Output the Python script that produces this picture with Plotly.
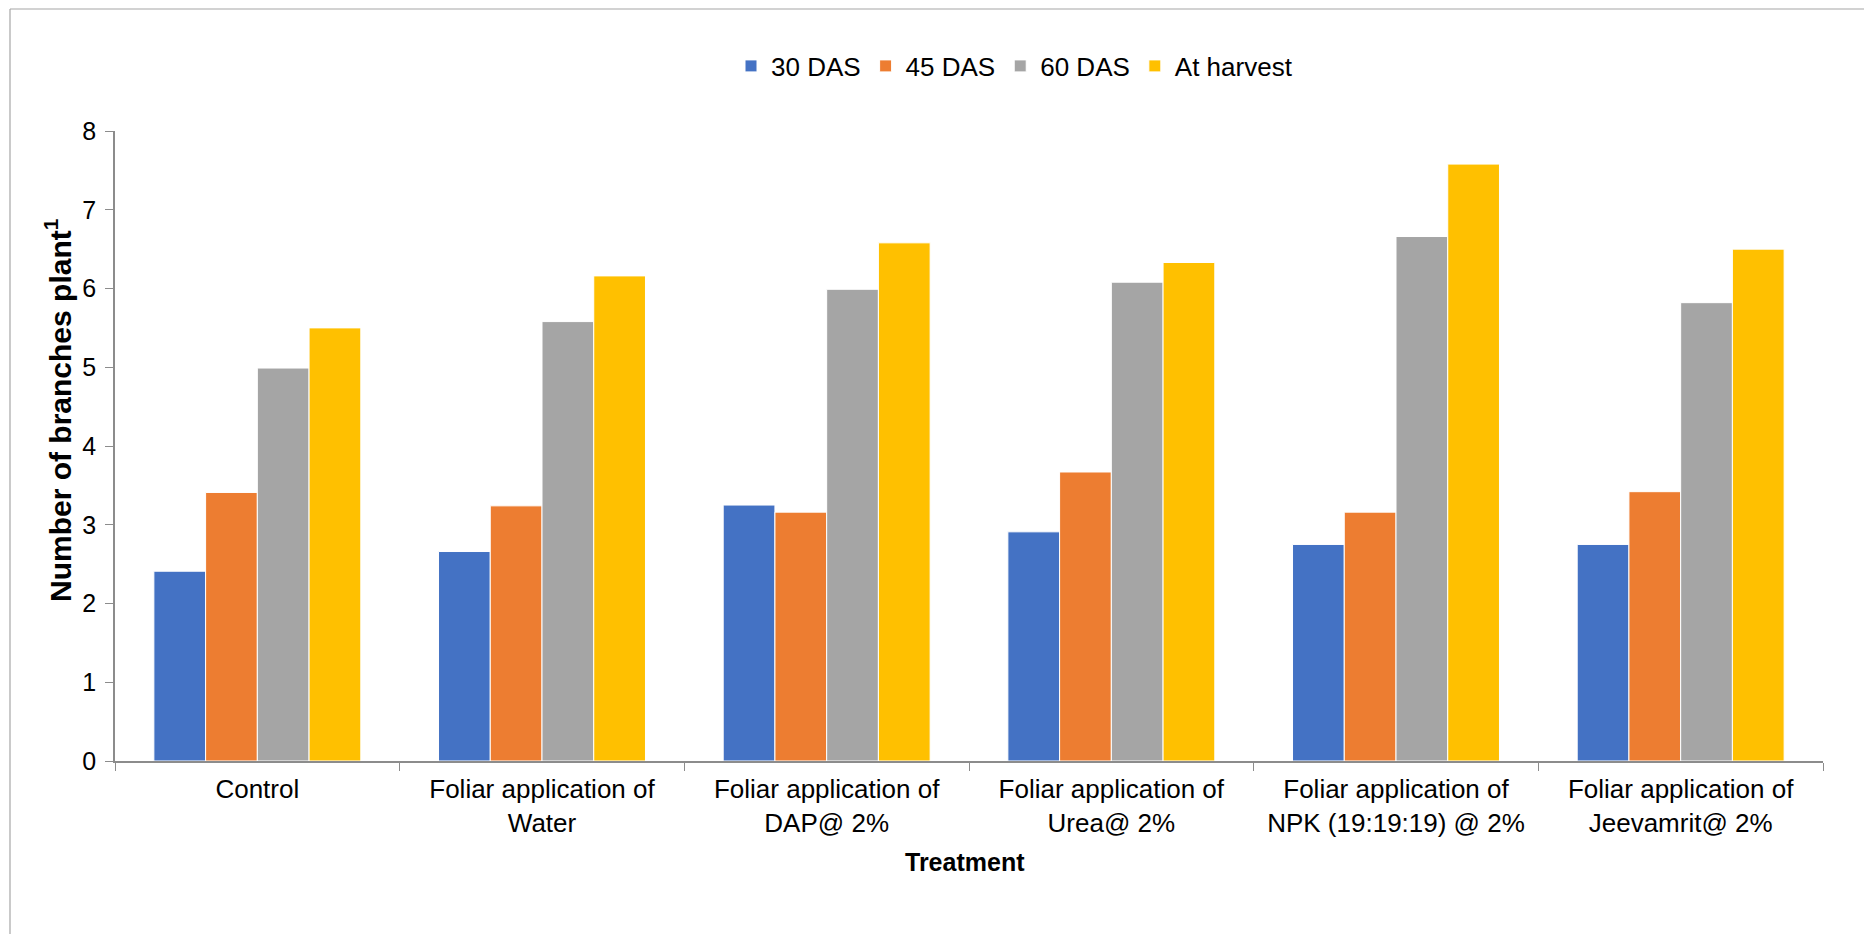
import plotly.graph_objects as go

categories = [
    "Control",
    "Foliar application of<br>Water",
    "Foliar application of<br>DAP@ 2%",
    "Foliar application of<br>Urea@ 2%",
    "Foliar application of<br>NPK (19:19:19) @ 2%",
    "Foliar application of<br>Jeevamrit@ 2%",
]
series_names = ["30 DAS", "45 DAS", "60 DAS", "At harvest"]
das30 = [2.41, 2.66, 3.25, 2.91, 2.75, 2.75]
das45 = [3.41, 3.24, 3.16, 3.67, 3.16, 3.42]
das60 = [4.99, 5.58, 5.99, 6.08, 6.66, 5.82]
harvest = [5.50, 6.16, 6.58, 6.33, 7.58, 6.50]
colors = ["#4472C4", "#ED7D31", "#A5A5A5", "#FFC000"]
y_ticks = [0, 1, 2, 3, 4, 5, 6, 7, 8]

FONT = "Liberation Sans, Arial, sans-serif"

fig = go.Figure()
for name, vals, col in zip(series_names, [das30, das45, das60, harvest], colors):
    fig.add_trace(go.Bar(
        name=name, x=categories, y=vals,
        marker=dict(color=col, line=dict(color="white", width=1)),
    ))

# page has an 8px body margin; figure coords = screen coords - 8
OFF = 8
W, H = 1864, 926
L, R, T, B = 107, 49, 123, 173
pw = W - L - R
ph = H - T - B

def sx(x):
    return (x - OFF - L) / pw

def sy(y):
    return (H - B - (y - OFF)) / ph

fig.update_layout(
    width=W, height=H,
    margin=dict(l=L, r=R, t=T, b=B, autoexpand=False),
    paper_bgcolor="white", plot_bgcolor="white",
    barmode="group", bargap=0.273, bargroupgap=0,
    font=dict(family=FONT, size=26, color="#000000"),
    showlegend=True,
    legend=dict(
        orientation="h", x=sx(731), y=sy(66), xanchor="left", yanchor="middle",
        font=dict(family=FONT, size=26, color="#000000"),
        itemwidth=30, tracegroupgap=0,
        bgcolor="rgba(0,0,0,0)",
    ),
    xaxis=dict(
        type="category",
        showline=True, linecolor="#8C8C8C", linewidth=1.5,
        ticks="outside", tickson="boundaries", ticklen=8, tickcolor="#8C8C8C",
        tickfont=dict(family=FONT, size=26, color="#000000"),
        showgrid=False, zeroline=False,
        ticklabelstandoff=4,
    ),
    yaxis=dict(
        range=[0, 8], tickvals=y_ticks,
        showline=True, linecolor="#8C8C8C", linewidth=1.5,
        ticks="outside", ticklen=8, tickcolor="#8C8C8C",
        tickfont=dict(family=FONT, size=25, color="#000000"),
        showgrid=False, zeroline=False,
        ticklabelstandoff=4,
    ),
    shapes=[
        dict(type="line", xref="paper", yref="paper",
             x0=sx(10), x1=sx(1900), y0=sy(9), y1=sy(9),
             line=dict(color="#A6A6A6", width=1.2)),
        dict(type="line", xref="paper", yref="paper",
             x0=sx(10), x1=sx(10), y0=sy(9), y1=sy(960),
             line=dict(color="#A6A6A6", width=1.2)),
    ],
    annotations=[
        dict(text="<b>Number of branches plant<sup>1</sup></b>", xref="paper", yref="paper",
             x=sx(58), y=sy(410), xanchor="center", yanchor="middle",
             textangle=-90, showarrow=False,
             font=dict(family=FONT, size=30, color="#000000")),
        dict(text="<b>Treatment</b>", xref="paper", yref="paper",
             x=sx(965), y=sy(862), xanchor="center", yanchor="middle",
             showarrow=False,
             font=dict(family=FONT, size=25, color="#000000")),
    ],
)

fig.write_html("out.html")
